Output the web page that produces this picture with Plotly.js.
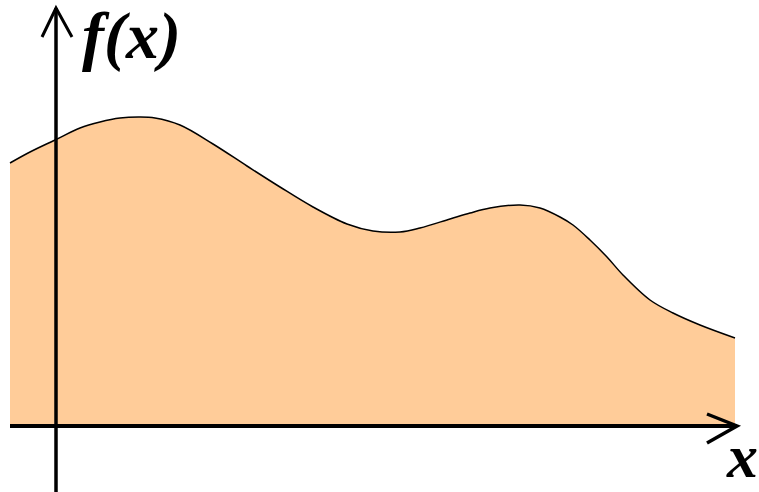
<!DOCTYPE html>
<html>
<head>
<meta charset="utf-8">
<script src="https://cdn.plot.ly/plotly-3.0.1.min.js"></script>
<style>html,body{margin:0;padding:0;background:#fff;}#chart{width:759px;height:492px;}</style>
</head>
<body>
<div id="chart"></div>
<script>
// Curve samples (x measured from the vertical axis, y height above the x-axis)
const xValues = [-46, -26, -1, 24, 44, 64, 84, 99, 124, 157, 191, 224, 257, 291, 317, 344, 364, 394, 414, 434, 464, 484, 504, 517, 534, 551, 567, 594, 617, 644, 679];
const fValues = [263, 274, 286, 298, 304, 308, 309, 308, 301, 282, 260, 239, 219, 202, 195, 194, 198, 207, 213, 218, 221, 218, 209, 201, 186, 169, 151, 126, 113, 101, 88];
const yLabel = 'f(x)';
const xLabel = 'x';

const xMin = -56, xMax = 703, yMin = -66, yMax = 426;
const axisLeft = -46, axisRight = 681, axisTop = 418;

const trace = {
  x: xValues, y: fValues, type: 'scatter', mode: 'lines',
  line: {color: '#000', width: 1.5, shape: 'spline', smoothing: 1},
  fill: 'tozeroy', fillcolor: '#FFCC99', hoverinfo: 'skip'
};

const shapes = [
  {type: 'line', x0: axisLeft, x1: axisRight, y0: 0, y1: 0, line: {color: '#000', width: 4}},
  {type: 'line', x0: 0, x1: 0, y0: yMin, y1: axisTop, line: {color: '#000', width: 3.5}},
  {type: 'path', path: `M ${axisRight-30},12 L ${axisRight},0 L ${axisRight-30},-17`, line: {color: '#000', width: 3.5}},
  {type: 'path', path: `M -14,389 L 0,${axisTop} L 16,389`, line: {color: '#000', width: 3}}
];

const annotations = [
  {x: 24, y: 390, xref: 'x', yref: 'y', text: '<b><i>' + yLabel + '</i></b>', showarrow: false, xanchor: 'left', yanchor: 'middle',
   font: {family: 'Liberation Serif, Times New Roman, serif', size: 66, color: '#000'}},
  {x: 668, y: -30, xref: 'x', yref: 'y', text: '<b><i>' + xLabel + '</i></b>', showarrow: false, xanchor: 'left', yanchor: 'middle',
   font: {family: 'Liberation Serif, Times New Roman, serif', size: 62, color: '#000'}}
];

const layout = {
  width: 759, height: 492,
  margin: {l: 0, r: 0, t: 0, b: 0, pad: 0},
  paper_bgcolor: '#fff', plot_bgcolor: '#fff',
  showlegend: false,
  xaxis: {range: [xMin, xMax], visible: false, fixedrange: true},
  yaxis: {range: [yMin, yMax], visible: false, fixedrange: true},
  shapes: shapes, annotations: annotations
};

Plotly.newPlot('chart', [trace], layout, {displayModeBar: false, staticPlot: true});
</script>
</body>
</html>
